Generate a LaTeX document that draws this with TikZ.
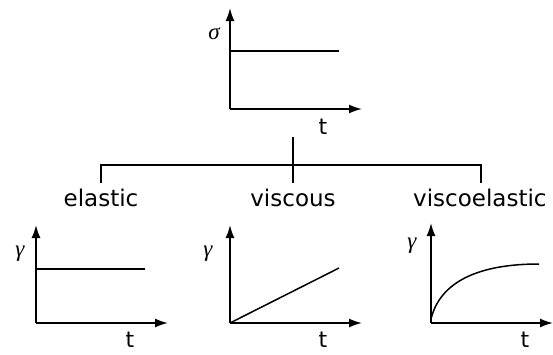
\documentclass[tikz,border=0pt]{standalone}
\usepackage{fontspec}
\setmainfont{DejaVu Sans}
\newfontfamily\symfont{Liberation Serif}
\usetikzlibrary{arrows.meta}
\begin{document}
\begin{tikzpicture}[x=1pt,y=-1pt,
  axis/.style={line width=1.7pt,-{Latex[length=13pt,width=9pt]}},
  curveline/.style={line width=1.5pt},
  tree/.style={line width=1.5pt},
  lbl/.style={font=\fontsize{23}{26}\selectfont,inner sep=0pt},
  tlbl/.style={font=\fontsize{22}{26}\selectfont,inner sep=0pt},
  sym/.style={font=\symfont\itshape\fontsize{23}{26}\selectfont,inner sep=0pt}]
\useasboundingbox (0,0) rectangle (553,354);
% top graph
\coordinate (o0) at (230,109);
\coordinate (y0) at (230,8);
\coordinate (x0) at (362,109);
\draw[axis] (o0) -- (y0);
\draw[axis] (o0) -- (x0);
\coordinate (s0) at (230,51);
\coordinate (s1) at (339,51);
\draw[curveline] (s0) -- (s1);
\node[sym] (sig) at (214,34) {σ};
\node[tlbl] (t0) at (323,127) {t};
% tree
\coordinate (stemtop) at (293,137);
\coordinate (stemmid) at (293,165);
\coordinate (stembot) at (293,183);
\coordinate (lefttop) at (101,165);
\coordinate (leftbot) at (101,183);
\coordinate (righttop) at (481,165);
\coordinate (rightbot) at (481,183);
\draw[tree] (stemtop) -- (stembot);
\draw[tree] (leftbot) -- (lefttop) -- (righttop) -- (rightbot);
\node[lbl] (el) at (101,198) {elastic};
\node[lbl] (vi) at (293,198) {viscous};
\node[lbl,anchor=west] (ve) at (413,198) {viscoelastic};
% elastic graph
\coordinate (o1) at (36,323);
\draw[axis] (o1) -- (36,225);
\draw[axis] (o1) -- (168,323);
\draw[curveline] (36,269) -- (145,269);
\node[sym] (g1) at (20,254) {γ};
\node[tlbl] (t1) at (130,340) {t};
% viscous graph
\coordinate (o2) at (230,323);
\draw[axis] (o2) -- (230,225);
\draw[axis] (o2) -- (362,323);
\draw[curveline] (o2) -- (339,268);
\node[sym] (g2) at (208,254) {γ};
\node[tlbl] (t2) at (323,340) {t};
% viscoelastic graph
\coordinate (o3) at (431,323);
\draw[axis] (o3) -- (431,223);
\draw[axis] (o3) -- (553,323);
\draw[curveline] (431,319) .. controls (440,282) and (478,264) .. (539,264);
\node[sym] (g3) at (412,246) {γ};
\node[tlbl] (t3) at (525,340) {t};
\end{tikzpicture}
\end{document}
